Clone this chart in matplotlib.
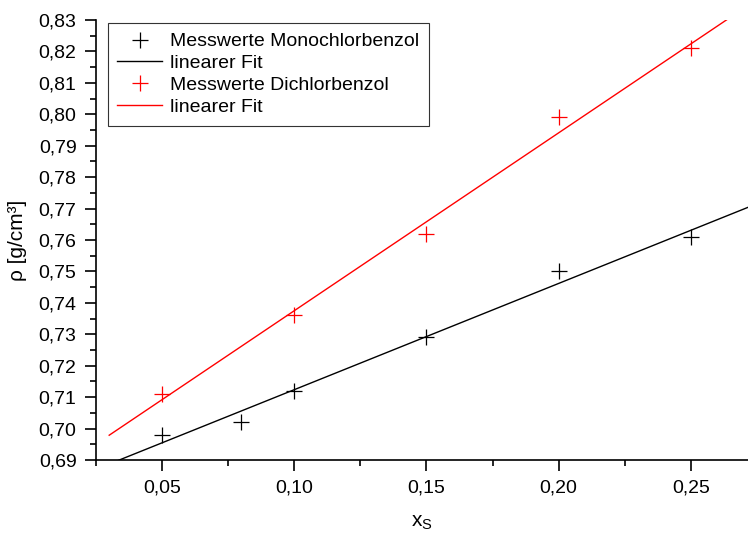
import numpy as np
import matplotlib.pyplot as plt
from matplotlib.ticker import FuncFormatter, MultipleLocator

plt.rcParams['font.family'] = ['Liberation Sans', 'DejaVu Sans']

# Messwerte
x_mono = [0.05, 0.08, 0.10, 0.15, 0.20, 0.25]
rho_mono = [0.698, 0.702, 0.712, 0.729, 0.750, 0.761]
x_di = [0.05, 0.10, 0.15, 0.20, 0.25]
rho_di = [0.711, 0.736, 0.762, 0.799, 0.821]

# lineare Fits
p_mono = np.polyfit(x_mono, rho_mono, 1)
p_di = np.polyfit(x_di, rho_di, 1)
x_fit = np.linspace(0.030, 0.275, 50)

fig = plt.figure(figsize=(7.48, 5.36), dpi=100)
ax = fig.add_axes([0.1283, 0.1418, 0.8717, 0.8209])

ax.plot(x_mono, rho_mono, '+', color='black', markersize=12, markeredgewidth=0.9,
        label='Messwerte Monochlorbenzol')
ax.plot(x_fit, np.polyval(p_mono, x_fit), '-', color='black', lw=1.0, label='linearer Fit')
ax.plot(x_di, rho_di, '+', color='red', markersize=12, markeredgewidth=0.9,
        label='Messwerte Dichlorbenzol')
ax.plot(x_fit, np.polyval(p_di, x_fit), '-', color='red', lw=1.0, label='linearer Fit')

ax.set_xlim(0.025, 0.2716)
ax.set_ylim(0.69, 0.83)

ax.xaxis.set_major_locator(MultipleLocator(0.05))
ax.xaxis.set_minor_locator(MultipleLocator(0.025))
ax.yaxis.set_major_locator(MultipleLocator(0.01))
ax.yaxis.set_minor_locator(MultipleLocator(0.005))
komma = FuncFormatter(lambda v, pos: f'{v:.2f}'.replace('.', ','))
ax.xaxis.set_major_formatter(komma)
ax.yaxis.set_major_formatter(komma)

ax.spines['top'].set_visible(False)
ax.spines['right'].set_visible(False)
ax.spines['left'].set_linewidth(1.2)
ax.spines['bottom'].set_linewidth(1.2)
ax.tick_params(which='major', direction='out', length=8, width=1.2, labelsize=14, pad=6)
ax.tick_params(which='minor', direction='out', length=4, width=1.2)

ax.set_xlabel('x$_\\mathregular{S}$', fontsize=15, labelpad=12)
ax.set_ylabel('ρ [g/cm³]', fontsize=15, labelpad=8)

leg = ax.legend(loc='upper left', bbox_to_anchor=(0.018, 0.993), fontsize=14,
                fancybox=False, edgecolor='#333333', framealpha=1, handlelength=2.3,
                borderpad=0.5, labelspacing=0.22, handletextpad=0.4, borderaxespad=0,
                handleheight=0.7)
leg.get_frame().set_linewidth(0.8)

plt.savefig('out.png', dpi=100)
